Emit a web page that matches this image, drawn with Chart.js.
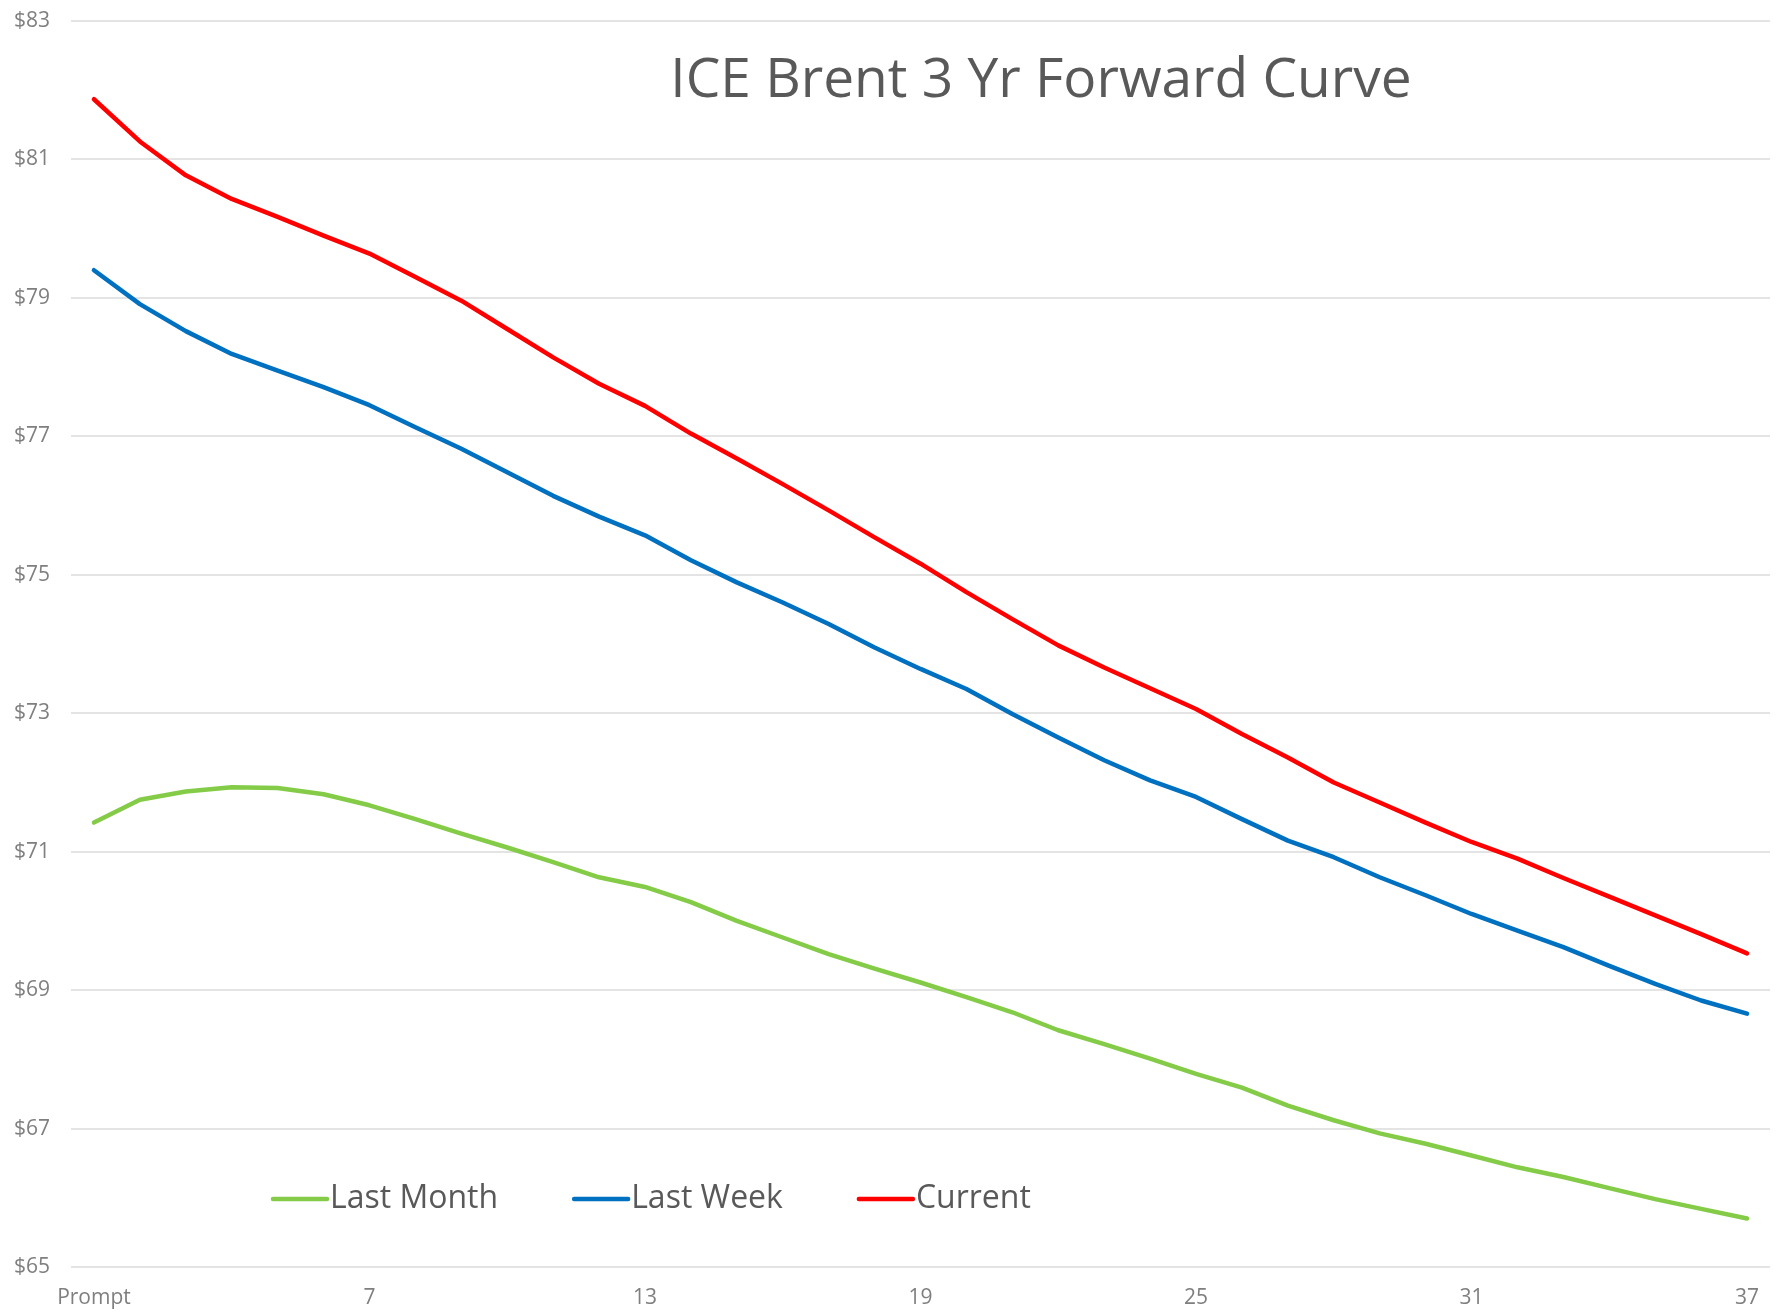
<!DOCTYPE html>
<html>
<head>
<meta charset="utf-8">
<title>ICE Brent 3 Yr Forward Curve</title>
<script src="https://cdn.jsdelivr.net/npm/chart.js@4.4.1/dist/chart.umd.min.js"></script>
<style>
  html, body { margin: 0; padding: 0; background: #fff; }
  canvas { display: block; }
</style>
</head>
<body>
<canvas id="curveChart" width="1787" height="1313"></canvas>
<script>
// Datos (USD/bbl)
const chartTitle = 'ICE Brent 3 Yr Forward Curve';

const months = ['Prompt', '2', '3', '4', '5', '6', '7', '8', '9', '10', '11', '12', '13',
  '14', '15', '16', '17', '18', '19', '20', '21', '22', '23', '24', '25', '26', '27',
  '28', '29', '30', '31', '32', '33', '34', '35', '36', '37'];

const lastMonth = [71.42, 71.75, 71.87, 71.93, 71.92, 71.83, 71.67, 71.47, 71.26, 71.06,
  70.85, 70.63, 70.49, 70.27, 70.00, 69.76, 69.52, 69.31, 69.11, 68.90, 68.68, 68.42,
  68.22, 68.01, 67.79, 67.59, 67.33, 67.12, 66.93, 66.78, 66.61, 66.44, 66.30, 66.14,
  65.98, 65.84, 65.70];

const lastWeek = [79.40, 78.91, 78.52, 78.19, 77.95, 77.71, 77.45, 77.13, 76.82, 76.48,
  76.14, 75.84, 75.57, 75.21, 74.89, 74.60, 74.29, 73.95, 73.64, 73.35, 72.99, 72.65,
  72.32, 72.03, 71.79, 71.47, 71.16, 70.92, 70.63, 70.37, 70.10, 69.86, 69.62, 69.35,
  69.09, 68.85, 68.66];

const current = [81.87, 81.26, 80.77, 80.43, 80.17, 79.90, 79.64, 79.30, 78.96, 78.55,
  78.14, 77.76, 77.44, 77.04, 76.68, 76.31, 75.93, 75.54, 75.16, 74.75, 74.36, 73.98,
  73.66, 73.36, 73.06, 72.70, 72.36, 72.00, 71.71, 71.42, 71.14, 70.90, 70.62, 70.35,
  70.08, 69.81, 69.53];

const yMin = 65;
const yMax = 83;
const yStep = 2;

Chart.defaults.font.family = "'Open Sans', 'Noto Sans', sans-serif";
Chart.defaults.color = '#7f7f7f';

// Título y leyenda dibujados dentro del área del gráfico
const overlayPlugin = {
  id: 'overlay',
  afterDraw(chart) {
    const { ctx, chartArea } = chart;
    ctx.save();

    ctx.font = "55px 'Open Sans'";
    ctx.fillStyle = '#595959';
    ctx.textAlign = 'center';
    ctx.textBaseline = 'middle';
    ctx.fillText(chartTitle, chartArea.left + 970, chartArea.top + 60);

    let x = chartArea.left + 202;
    const y = chartArea.bottom - 68;
    ctx.font = "32px 'Open Sans'";
    ctx.textAlign = 'left';
    chart.data.datasets.forEach(ds => {
      ctx.strokeStyle = ds.borderColor;
      ctx.lineWidth = 4.5;
      ctx.lineCap = 'round';
      ctx.beginPath();
      ctx.moveTo(x, y);
      ctx.lineTo(x + 54, y);
      ctx.stroke();
      ctx.fillStyle = '#595959';
      ctx.fillText(ds.label, x + 57, y);
      x += 57 + ctx.measureText(ds.label).width + 76;
    });

    ctx.restore();
  }
};

const ctx = document.getElementById('curveChart').getContext('2d');

const curveChart = new Chart(ctx, {
  type: 'line',
  data: {
    labels: months,
    datasets: [
      { label: 'Last Month', data: lastMonth, borderColor: '#84cc47' },
      { label: 'Last Week', data: lastWeek, borderColor: '#0070c0' },
      { label: 'Current', data: current, borderColor: '#ff0000' }
    ]
  },
  options: {
    responsive: false,
    animation: false,
    devicePixelRatio: 1,
    layout: { padding: { top: 21, right: 17, bottom: 0, left: 0 } },
    elements: {
      line: { borderWidth: 4.5, tension: 0, fill: false, borderCapStyle: 'round', borderJoinStyle: 'round' },
      point: { radius: 0, hoverRadius: 0 }
    },
    plugins: {
      legend: { display: false },
      title: { display: false },
      tooltip: { enabled: false }
    },
    scales: {
      x: {
        offset: true,
        grid: { display: false, drawTicks: false },
        border: { display: false },
        ticks: {
          autoSkip: false,
          maxRotation: 0,
          padding: 18,
          font: { size: 21 },
          color: '#7f7f7f',
          callback: function (value, index) {
            return index % 6 === 0 ? this.getLabelForValue(value) : '';
          }
        },
        afterFit: scale => {
          scale.height = 46;
          scale.paddingLeft = 0;
          scale.paddingRight = 0;
        }
      },
      y: {
        min: yMin,
        max: yMax,
        grid: { color: '#e4e4e4', lineWidth: 2, drawTicks: false },
        border: { display: false },
        ticks: {
          stepSize: yStep,
          padding: 21,
          font: { size: 21 },
          color: '#7f7f7f',
          callback: value => '$' + value
        },
        afterFit: scale => {
          scale.width = 71;
          scale.paddingTop = 0;
          scale.paddingBottom = 0;
        }
      }
    }
  },
  plugins: [overlayPlugin]
});
</script>
</body>
</html>
